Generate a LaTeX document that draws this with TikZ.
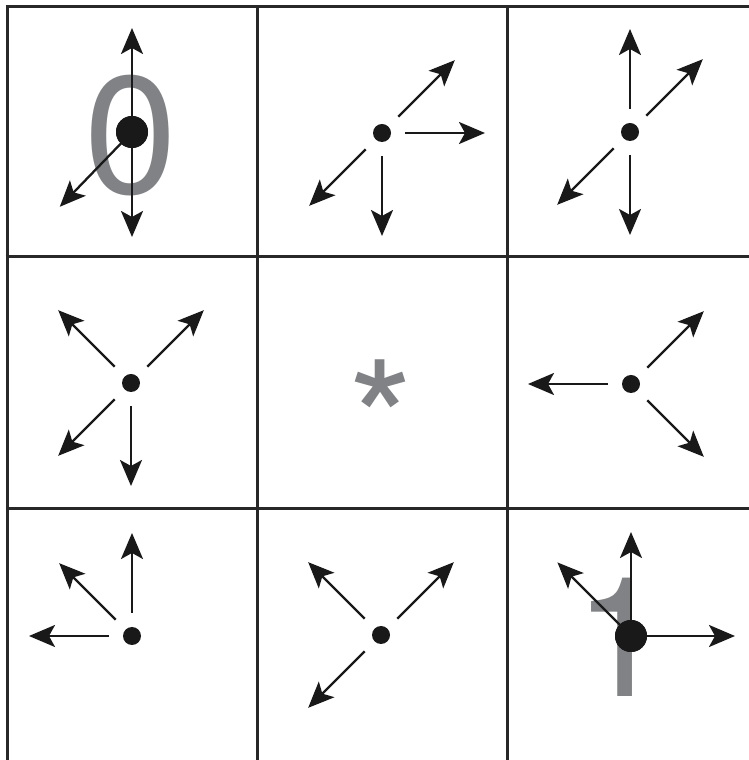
\documentclass[tikz,border=0pt]{standalone}
\usepackage{fontspec}
\setmainfont{TeX Gyre Heros}
\usetikzlibrary{arrows.meta}
\definecolor{digitgray}{RGB}{128,130,133}
\definecolor{gridgray}{RGB}{40,40,40}
\begin{document}
\begin{tikzpicture}[x=1pt,y=1pt,
  gridline/.style={line width=3pt, draw=gridgray},
  vec/.style={line width=2.3pt, draw=black!90, -{Stealth[length=26pt,width=22pt,inset=6pt]}},
  smalldot/.style={circle, fill=black!90, inner sep=0pt, minimum size=18pt, outer sep=14pt},
  bigdot/.style={circle, fill=black!90, inner sep=0pt, minimum size=32pt},
  glyph/.style={text=digitgray, font=\fontsize{167}{167}\selectfont, inner sep=0pt, anchor=base}]
\useasboundingbox (0,0) rectangle (749,760);
% grid
\draw[gridline] (7,0) -- (7,753);
\draw[gridline] (257,0) -- (257,753);
\draw[gridline] (507,0) -- (507,753);
\draw[gridline] (5.5,753) -- (749,753);
\draw[gridline] (5.5,503) -- (749,503);
\draw[gridline] (5.5,251) -- (749,251);
% gray glyphs
\node[glyph] (zero) at (131,566) {0};
\node[glyph] (star) at (381,278) {*};
\node[glyph] (one) at (621,63) {1};
% dots
\node[bigdot] (d00) at (132,628) {};
\node[smalldot] (d01) at (382,627) {};
\node[smalldot] (d02) at (630,628) {};
\node[smalldot] (d10) at (131,377) {};
\node[smalldot] (d12) at (631,376) {};
\node[smalldot] (d20) at (132,124) {};
\node[smalldot] (d21) at (381,125) {};
\node[bigdot] (d22) at (631,124) {};
% arrow tips
\path (d00.center) ++(90:104) coordinate (t00n) (d00.center) ++(270:105) coordinate (t00s) (d00.center) ++(226:104) coordinate (t00sw);
\path (d01.center) ++(45:103) coordinate (t01ne) (d01.center) ++(0:103) coordinate (t01e) (d01.center) ++(225:103) coordinate (t01sw) (d01.center) ++(270:103) coordinate (t01s);
\path (d02.center) ++(90:103) coordinate (t02n) (d02.center) ++(45:103) coordinate (t02ne) (d02.center) ++(225:103) coordinate (t02sw) (d02.center) ++(270:103) coordinate (t02s);
\path (d10.center) ++(135:103) coordinate (t10nw) (d10.center) ++(45:103) coordinate (t10ne) (d10.center) ++(225:103) coordinate (t10sw) (d10.center) ++(270:103) coordinate (t10s);
\path (d12.center) ++(180:103) coordinate (t12w) (d12.center) ++(45:103) coordinate (t12ne) (d12.center) ++(315:103) coordinate (t12se);
\path (d20.center) ++(90:103) coordinate (t20n) (d20.center) ++(135:103) coordinate (t20nw) (d20.center) ++(180:103) coordinate (t20w);
\path (d21.center) ++(135:103) coordinate (t21nw) (d21.center) ++(45:103) coordinate (t21ne) (d21.center) ++(225:103) coordinate (t21sw);
\path (d22.center) ++(90:104) coordinate (t22n) (d22.center) ++(135:104) coordinate (t22nw) (d22.center) ++(0:104) coordinate (t22e);
% arrows
\draw[vec] (d00.center) -- (t00n);
\draw[vec] (d00.center) -- (t00s);
\draw[vec] (d00.center) -- (t00sw);
\foreach \t in {t01ne,t01e,t01sw,t01s} \draw[vec] (d01) -- (\t);
\foreach \t in {t02n,t02ne,t02sw,t02s} \draw[vec] (d02) -- (\t);
\foreach \t in {t10nw,t10ne,t10sw,t10s} \draw[vec] (d10) -- (\t);
\foreach \t in {t12w,t12ne,t12se} \draw[vec] (d12) -- (\t);
\foreach \t in {t20n,t20nw,t20w} \draw[vec] (d20) -- (\t);
\foreach \t in {t21nw,t21ne,t21sw} \draw[vec] (d21) -- (\t);
\draw[vec] (d22.center) -- (t22n);
\draw[vec] (d22.center) -- (t22nw);
\draw[vec] (d22.center) -- (t22e);
% redraw big dots on top
\fill[black!90] (d00.center) circle (16);
\fill[black!90] (d22.center) circle (16);
\end{tikzpicture}
\end{document}
